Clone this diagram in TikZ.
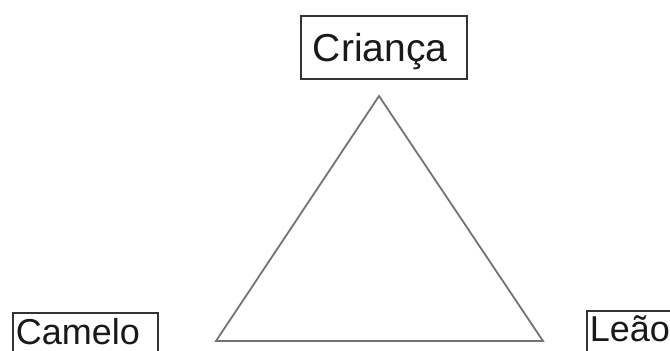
\documentclass[tikz,border=0pt]{standalone}
\usepackage{fontspec}
\setmainfont{Liberation Sans}
\usetikzlibrary{positioning}

\begin{document}
\begin{tikzpicture}[
  x=1pt, y=-1pt,
  box/.style={draw=black!80, line width=1.8pt, inner ysep=0pt, align=left,
              anchor=north west, text=black!90},
  tri/.style={draw=black!55, line width=1.8pt},
]
  \useasboundingbox (0,0) rectangle (670,351);

  \node[box, inner xsep=12pt, text width=142pt, text height=46pt, text depth=17pt,
        font=\fontsize{39}{39}\selectfont] (crianca) at (300,15) {Criança};
  \node[box, inner xsep=3pt, text width=139pt, text height=32pt, text depth=20pt,
        font=\fontsize{36}{36}\selectfont] (camelo) at (12,312) {Camelo};
  \node[box, inner xsep=3pt, text width=100pt, text height=31pt, text depth=20pt,
        font=\fontsize{36}{36}\selectfont] (leao) at (586,310) {Leão};

  % triangle
  \coordinate (top)   at (379,96);
  \coordinate (left)  at (216,341);
  \coordinate (right) at (543,341);
  \draw[tri] (top) -- (left) -- (right) -- cycle;
\end{tikzpicture}
\end{document}
